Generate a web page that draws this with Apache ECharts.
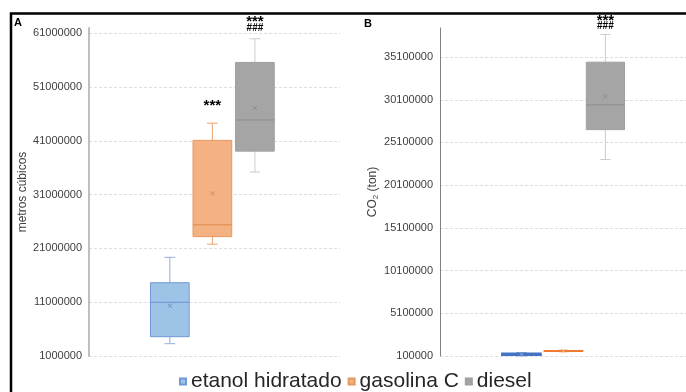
<!DOCTYPE html>
<html>
<head>
<meta charset="utf-8">
<script src="https://cdn.jsdelivr.net/npm/echarts@6.0.0/dist/echarts.min.js"></script>
<style>
  html, body { margin: 0; padding: 0; background: #fff; }
  #chart { width: 686px; height: 392px; }
</style>
</head>
<body>
<div id="chart"></div>
<script>
// combustíveis (legenda) e posição de cada caixa no eixo x
const fuels = ['etanol hidratado', 'gasolina C', 'diesel'];
const slots = [1, 2, 3];

// A - volume (metros cúbicos)
const volMin  = [3290000, 21800000, 35200000];
const volQ1   = [4590000, 23200000, 39100000];
const volMed  = [10990000, 25400000, 44900000];
const volQ3   = [14630000, 41100000, 55600000];
const volMax  = [19350000, 44300000, 60000000];
const volMean = [10350000, 31250000, 47100000];
const volSig  = ['', '***', '***|###'];

// B - CO2 (ton)
const co2Min  = [220000, 640000, 23100000];
const co2Q1   = [250000, 670000, 26600000];
const co2Med  = [300000, 690000, 29500000];
const co2Q3   = [350000, 710000, 34500000];
const co2Max  = [380000, 740000, 37750000];
const co2Mean = [300000, 690000, 30500000];
const co2Sig  = ['', '', '***|###'];

// ticks: primeiro valor + passo, topo do eixo
const volTickStart = 1000000, volTickStep = 10000000, volTop = 62000000;
const co2TickStart = 100000, co2TickStep = 5000000, co2Top = 38500000;

const styleA = [
  { fill: '#9DC3E6', border: '#7199D3', whisker: '#93AEDD', median: '#6F93CF', mean: '#6A8CC7', lift: 0, lw: 1 },
  { fill: '#F4B183', border: '#E8975C', whisker: '#E9A06E', median: '#E0894A', mean: '#DD8A4E', lift: 20, lw: 1 },
  { fill: '#A5A5A5', border: '#A0A0A0', whisker: '#CCCCCC', median: '#8E8E8E', mean: '#8C8C8C', lift: 11, lw: 1 }
];
const styleB = [
  { fill: '#4472C4', border: '#4472C4', whisker: '#4472C4', median: '#4472C4', mean: '#8FA9DC', lift: 0, lw: 2.5 },
  { fill: '#ED7D31', border: '#ED7D31', whisker: '#ED7D31', median: '#ED7D31', mean: '#F4B183', lift: 0, lw: 1.5 },
  { fill: '#A5A5A5', border: '#A0A0A0', whisker: '#CCCCCC', median: '#8E8E8E', mean: '#8C8C8C', lift: 8, lw: 1 }
];

function boxRender(st, sig) {
  return function (params, api) {
    const x = api.value(0);
    const w = api.size([0.91, 0])[0];
    const cap = api.size([0.25, 0])[0];
    const pMin = api.coord([x, api.value(1)]);
    const pQ1 = api.coord([x, api.value(2)]);
    const pMed = api.coord([x, api.value(3)]);
    const pQ3 = api.coord([x, api.value(4)]);
    const pMax = api.coord([x, api.value(5)]);
    const pMean = api.coord([x, api.value(6)]);
    const cx = pMed[0];
    const line = (x1, y1, x2, y2, color, lw) => ({
      type: 'line', shape: { x1, y1, x2, y2 }, style: { stroke: color, lineWidth: lw }
    });
    const kids = [
      line(cx, pMin[1], cx, pMax[1], st.whisker, 1),
      line(cx - cap / 2, pMax[1], cx + cap / 2, pMax[1], st.whisker, st.lw),
      line(cx - cap / 2, pMin[1], cx + cap / 2, pMin[1], st.whisker, st.lw),
      {
        type: 'rect',
        shape: { x: cx - w / 2, y: pQ3[1], width: w, height: pQ1[1] - pQ3[1] },
        style: { fill: st.fill, stroke: st.border, lineWidth: st.lw }
      },
      line(cx - w / 2, pMed[1], cx + w / 2, pMed[1], st.median, st.lw),
      line(cx - 2, pMean[1] - 2, cx + 2, pMean[1] + 2, st.mean, 1),
      line(cx - 2, pMean[1] + 2, cx + 2, pMean[1] - 2, st.mean, 1)
    ];
    if (sig) {
      const rows = sig.split('|');
      let y = pMax[1] - st.lift;
      for (let i = rows.length - 1; i >= 0; i--) {
        const star = rows[i].charAt(0) === '*';
        kids.push({
          type: 'text', x: cx, y: star ? y + 3 : y,
          style: {
            text: rows[i], align: 'center', verticalAlign: 'middle',
            font: star ? 'bold 15px "Liberation Sans"' : 'bold 10px "Liberation Sans"', fill: '#000'
          }
        });
        y -= 9;
      }
    }
    return { type: 'group', children: kids };
  };
}

function makeSeries(idx, mins, q1s, meds, q3s, maxs, means, sigs, styles) {
  return fuels.map(function (name, i) {
    return {
      name: name,
      type: 'custom',
      xAxisIndex: idx,
      yAxisIndex: idx,
      itemStyle: { color: styles[i].fill, borderColor: styles[i].border, borderWidth: 1 },
      encode: { x: 0, y: [1, 2, 3, 4, 5] },
      renderItem: boxRender(styles[i], sigs[i]),
      data: [[slots[i], mins[i], q1s[i], meds[i], q3s[i], maxs[i], means[i]]]
    };
  });
}

function valueAxis(idx, min, max, step, name, gap, axisColor, axisWidth) {
  return {
    gridIndex: idx, type: 'value', min: min, max: max, interval: step,
    name: name, nameLocation: 'middle', nameRotate: 90, nameGap: gap,
    nameTextStyle: {
      fontSize: 12, color: '#404040', fontFamily: 'Liberation Sans',
      rich: {
        t: { fontSize: 12, color: '#404040', fontFamily: 'Liberation Sans' },
        s: { fontSize: 8, color: '#404040', fontFamily: 'Liberation Sans', verticalAlign: 'bottom', padding: [6, 0, 0, 0] }
      }
    },
    axisLine: { show: true, onZero: false, lineStyle: { color: axisColor, width: axisWidth } },
    axisTick: { show: false },
    axisLabel: {
      fontSize: 11, color: '#404040', fontFamily: 'Liberation Sans', margin: 7, showMaxLabel: false,
      formatter: function (v) { return String(v); }
    },
    splitLine: { show: true, showMaxLine: false, lineStyle: { color: '#DDDDDD', type: [3, 2], width: 1 } }
  };
}

const chart = echarts.init(document.getElementById('chart'), null, { renderer: 'canvas' });
chart.setOption({
  animation: false,
  backgroundColor: '#fff',
  grid: [
    { left: 89, right: 346, top: 28, bottom: 36 },
    { left: 440, right: 0, top: 28, bottom: 36 }
  ],
  xAxis: [
    { gridIndex: 0, type: 'value', min: -0.9, max: 5.0, show: false },
    { gridIndex: 1, type: 'value', min: -0.94, max: 4.92, show: false }
  ],
  yAxis: [
    valueAxis(0, volTickStart, volTop, volTickStep, 'metros cúbicos', 56, '#BFBFBF', 2),
    valueAxis(1, co2TickStart, co2Top, co2TickStep, '{t|CO}{s|2}{t| (ton)}', 58, '#808080', 1)
  ],
  legend: {
    data: fuels, left: 174, top: 366, icon: 'rect',
    itemWidth: 6, itemHeight: 6, itemGap: 6,
    textStyle: { fontSize: 21, color: '#262626', fontFamily: 'Liberation Sans' }
  },
  graphic: [
    { type: 'polyline', shape: { points: [[11, 392], [11, 13.5], [686, 13.5]] }, style: { stroke: '#000', lineWidth: 2.5, fill: null } },
    { type: 'text', left: 14, top: 17, style: { text: 'A', font: 'bold 11px "Liberation Sans"', fill: '#000' } },
    { type: 'text', left: 364, top: 18, style: { text: 'B', font: 'bold 11px "Liberation Sans"', fill: '#000' } }
  ],
  series: makeSeries(0, volMin, volQ1, volMed, volQ3, volMax, volMean, volSig, styleA)
    .concat(makeSeries(1, co2Min, co2Q1, co2Med, co2Q3, co2Max, co2Mean, co2Sig, styleB))
});
</script>
</body>
</html>
